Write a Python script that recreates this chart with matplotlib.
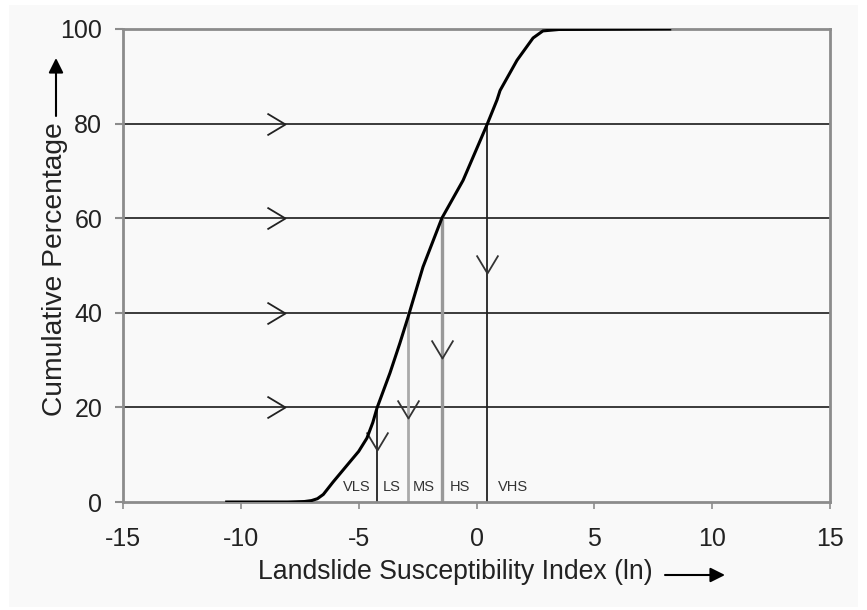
import matplotlib
matplotlib.use("Agg")
import matplotlib.pyplot as plt
from matplotlib.path import Path
from matplotlib.patches import Rectangle

plt.rcParams['font.family'] = ['Liberation Sans', 'DejaVu Sans']
plt.rcParams['axes.unicode_minus'] = False

# cumulative curve
lsi = [-10.6, -8.0, -7.3, -7.0, -6.75, -6.5, -6.09, -5.37, -5.0, -4.65, -4.4,
       -4.22, -3.67, -3.25, -2.91, -2.27, -1.47, -0.57, 0.44, 0.87, 1.0, 1.72,
       2.4, 2.82, 3.5, 8.2]
cum_pct = [0, 0, 0.1, 0.3, 0.7, 1.6, 4.2, 8.5, 10.7, 13.5, 16.8,
           19.9, 27.3, 33.6, 39.0, 49.7, 60, 68, 79.7, 85, 87, 93.4,
           98.1, 99.6, 99.9, 100]

# class breaks
levels = [20, 40, 60, 80]
breaks = [-4.22, -2.91, -1.47, 0.44]
break_colors = ['#222222', '#aaaaaa', '#999999', '#222222']
break_widths = [1.3, 2.0, 2.4, 1.3]
right_arrow_x = -8.13
down_arrow_y = [11, 17.8, 30.4, 48.4]

classes = ['VLS', 'LS', 'MS', 'HS', 'VHS']
class_x = [-5.07, -3.6, -2.23, -0.7, 1.55]
class_y = 3.2

xticks = [-15, -10, -5, 0, 5, 10, 15]
yticks = [0, 20, 40, 60, 80, 100]

bg = '#f9f9f9'
axis_gray = '#8c8c8c'

fig = plt.figure(figsize=(8.67, 6.10), dpi=100, facecolor='white')
# light gray panel behind the chart
fig.add_artist(Rectangle((9 / 867, 3 / 610), 849 / 867, 602 / 610,
                         transform=fig.transFigure, facecolor=bg,
                         edgecolor='none', zorder=-10))

ax = fig.add_axes([123 / 867, 108 / 610, 707 / 867, 473 / 610])
ax.set_facecolor(bg)

# horizontal lines at the class levels
for lv in levels:
    ax.axhline(lv, color='#3a3a3a', lw=1.4, zorder=1)

# vertical class break lines
for bx, top, c, w in zip(breaks, levels, break_colors, break_widths):
    ax.plot([bx, bx], [0, top], color=c, lw=w, zorder=2)

# open chevrons
right_chev = Path([(-1, 0.6), (0, 0), (-1, -0.6)])
down_chev = Path([(-0.6, 1), (0, 0), (0.6, 1)])
ax.plot([right_arrow_x] * len(levels), levels, ls='none', marker=right_chev,
        ms=26, mfc='none', mec='#222222', mew=1.3, zorder=3)
ax.plot(breaks, down_arrow_y, ls='none', marker=down_chev,
        ms=26, mfc='none', mec='#333333', mew=1.3, zorder=3)

# cumulative curve
ax.plot(lsi, cum_pct, color='black', lw=2.2, zorder=4)

for name, cx in zip(classes, class_x):
    ax.text(cx, class_y, name, ha='center', va='center', fontsize=10.5,
            color='#333333', zorder=5)

ax.set_xlim(-15, 15)
ax.set_ylim(0, 100)
ax.set_xticks(xticks)
ax.set_yticks(yticks)
for sp in ax.spines.values():
    sp.set_color(axis_gray)
    sp.set_linewidth(2)
ax.tick_params(axis='x', direction='out', length=5, width=1.2, color=axis_gray,
               labelsize=18, labelcolor='#222222', pad=13)
ax.tick_params(axis='y', direction='out', length=6, width=1.5, color=axis_gray,
               labelsize=18, labelcolor='#222222', pad=9)

# axis labels with arrows
fig.text(258 / 867, 1 - 572 / 610, 'Landslide Susceptibility Index (ln)',
         ha='left', va='center', fontsize=19.2, color='#222222')
ax.annotate('', xy=(725, 610 - 575), xytext=(665, 610 - 575),
            xycoords='figure pixels', textcoords='figure pixels',
            arrowprops=dict(arrowstyle='-|>', color='black', lw=1.5,
                            mutation_scale=22, shrinkA=0, shrinkB=0))
fig.text(55 / 867, 1 - 269 / 610, 'Cumulative Percentage', rotation=90,
         ha='center', va='center', fontsize=20.3, color='#222222')
ax.annotate('', xy=(56, 610 - 58), xytext=(56, 610 - 116),
            xycoords='figure pixels', textcoords='figure pixels',
            arrowprops=dict(arrowstyle='-|>', color='black', lw=1.5,
                            mutation_scale=22, shrinkA=0, shrinkB=0))

plt.savefig('out.png', dpi=100, facecolor='white')
